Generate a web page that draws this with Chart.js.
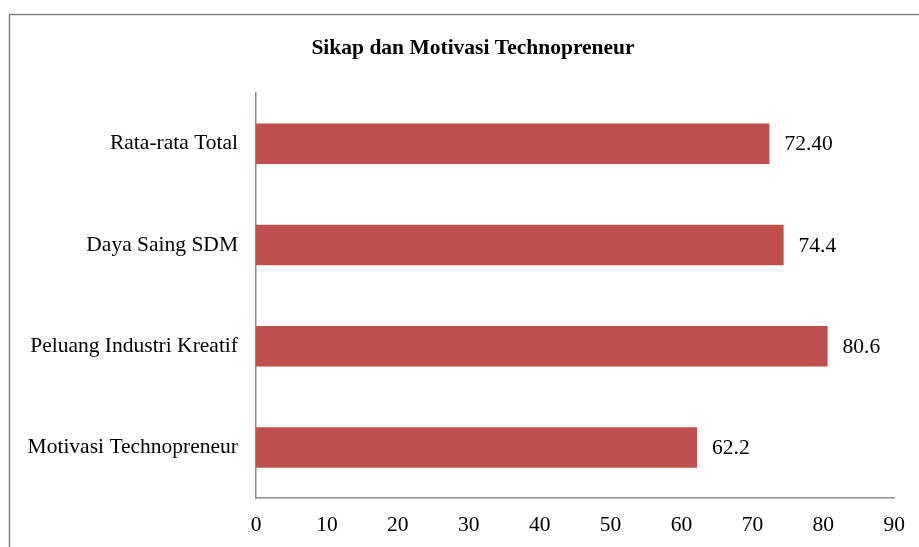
<!DOCTYPE html>
<html lang="id">
<head>
<meta charset="UTF-8">
<title>Sikap dan Motivasi Technopreneur</title>
<script src="https://cdn.jsdelivr.net/npm/chart.js@4/dist/chart.umd.min.js"></script>
<style>
  html, body { margin: 0; padding: 0; background: #fff; }
  #wrap { width: 919px; height: 547px; position: relative; }
</style>
</head>
<body>
<div id="wrap"><canvas id="chart"></canvas></div>
<script>
const chartTitle = 'Sikap dan Motivasi Technopreneur';
const categories = ['Rata-rata Total', 'Daya Saing SDM', 'Peluang Industri Kreatif', 'Motivasi Technopreneur'];
const values = [72.40, 74.4, 80.6, 62.2];
const valueLabels = ['72.40', '74.4', '80.6', '62.2'];

const serif = '"Liberation Serif", "Times New Roman", serif';

// frame, title and value labels drawn by hand
const decorPlugin = {
  id: 'decor',
  afterDraw(chart) {
    const ctx = chart.ctx;
    ctx.save();
    ctx.strokeStyle = '#7f7f7f';
    ctx.lineWidth = 1.5;
    ctx.beginPath();
    ctx.moveTo(9.5, 547);
    ctx.lineTo(9.5, 14.5);
    ctx.lineTo(919, 14.5);
    ctx.stroke();

    ctx.fillStyle = '#000';
    ctx.font = 'bold 21.5px ' + serif;
    ctx.textAlign = 'center';
    ctx.textBaseline = 'middle';
    ctx.fillText(chartTitle, 473, 48);

    ctx.font = '21.5px ' + serif;
    ctx.textAlign = 'left';
    const meta = chart.getDatasetMeta(0);
    meta.data.forEach((bar, i) => {
      ctx.fillText(valueLabels[i], bar.x + 15, bar.y + 1);
    });
    ctx.restore();
  }
};

new Chart(document.getElementById('chart'), {
  type: 'bar',
  data: {
    labels: categories,
    datasets: [{
      data: values,
      backgroundColor: '#C0504D',
      borderWidth: 0,
      barPercentage: 0.4,
      categoryPercentage: 1.0
    }]
  },
  options: {
    indexAxis: 'y',
    responsive: true,
    maintainAspectRatio: false,
    animation: false,
    layout: { padding: { left: 0, top: 93, right: 24, bottom: 0 } },
    plugins: {
      legend: { display: false },
      tooltip: { enabled: false },
      title: { display: false }
    },
    scales: {
      x: {
        min: 0,
        max: 90,
        ticks: { stepSize: 10, color: '#000', font: { family: serif, size: 21.5 }, padding: 14, maxRotation: 0 },
        grid: { display: false, drawTicks: false },
        border: { color: '#8c8c8c', width: 1.5 },
        afterFit(scale) { scale.height = 49; }
      },
      y: {
        ticks: { color: '#000', font: { family: serif, size: 21.5 }, padding: 18 },
        grid: { display: false, drawTicks: false },
        border: { color: '#8c8c8c', width: 1.5 },
        afterFit(scale) { scale.width = 256; }
      }
    }
  },
  plugins: [decorPlugin]
});
</script>
</body>
</html>
